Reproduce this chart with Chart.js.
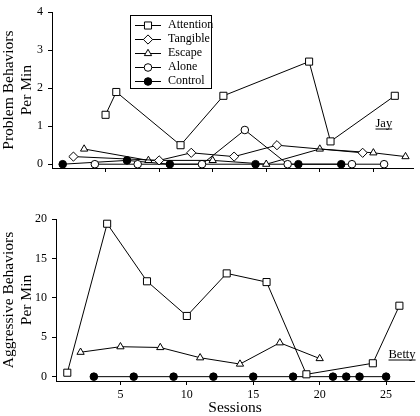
<!DOCTYPE html>
<html>
<head>
<meta charset="utf-8">
<script src="https://cdn.jsdelivr.net/npm/chart.js@4.4.1/dist/chart.umd.min.js"></script>
<style>
  body { margin: 0; background: #fff; }
  #wrap { position: relative; width: 420px; height: 416px; }
  canvas { position: absolute; left: 0; }
</style>
</head>
<body>
<div id="wrap">
  <canvas id="jay" width="420" height="200" style="top:0"></canvas>
  <canvas id="betty" width="420" height="216" style="top:200px"></canvas>
</div>
<script>
// Jay: problem behaviors per min, by session
var jayAttentionSessions = [5, 6, 12, 16, 24, 26, 32];
var jayAttention = [1.3, 1.9, 0.5, 1.8, 2.7, 0.6, 1.8];
var jayTangibleSessions = [2, 10, 13, 17, 21, 29];
var jayTangible = [0.2, 0.1, 0.3, 0.2, 0.5, 0.3];
var jayEscapeSessions = [3, 9, 15, 20, 25, 30, 33];
var jayEscape = [0.4, 0.1, 0.1, 0, 0.4, 0.3, 0.2];
var jayAloneSessions = [4, 8, 14, 18, 22, 28, 31];
var jayAlone = [0, 0, 0, 0.9, 0, 0, 0];
var jayControlSessions = [1, 7, 11, 19, 23, 27];
var jayControl = [0, 0.1, 0, 0, 0, 0];

// Betty: aggressive behaviors per min, by session
var bettyAttentionSessions = [1, 4, 7, 10, 13, 16, 19, 24, 26];
var bettyAttention = [0.5, 19.4, 12.1, 7.7, 13.1, 12.0, 0.3, 1.7, 9.0];
var bettyEscapeSessions = [2, 5, 8, 11, 14, 17, 20];
var bettyEscape = [3.1, 3.8, 3.7, 2.4, 1.6, 4.3, 2.3];
var bettyControlSessions = [3, 6, 9, 12, 15, 18, 21, 22, 23, 25];
var bettyControl = [0, 0, 0, 0, 0, 0, 0, 0, 0, 0];

var xTicks = [5, 10, 15, 20, 25, 30];
var jayYTicks = [0, 1, 2, 3, 4];
var bettyYTicks = [0, 5, 10, 15, 20];

var legendNames = ["Attention", "Tangible", "Escape", "Alone", "Control"];

var FONT = "'Liberation Serif', 'Times New Roman', serif";

var styles = {
  Attention: { pointStyle: "rect", radius: 5, fill: "#fff" },
  Tangible: { pointStyle: "rectRot", radius: 4.6, fill: "#fff" },
  Escape: { pointStyle: "triangle", radius: 4.2, fill: "#fff" },
  Alone: { pointStyle: "circle", radius: 3.8, fill: "#fff" },
  Control: { pointStyle: "circle", radius: 3.8, fill: "#000" }
};

function pts(xs, ys) {
  return xs.map(function (x, i) { return { x: x, y: ys[i] }; });
}

function series(name, xs, ys) {
  var s = styles[name];
  return {
    label: name,
    data: pts(xs, ys),
    borderColor: "#000",
    borderWidth: 1,
    pointStyle: s.pointStyle,
    pointRadius: s.radius,
    pointBackgroundColor: s.fill,
    pointBorderColor: "#000",
    pointBorderWidth: 1,
    tension: 0,
    clip: false
  };
}

function axisStyle() {
  return {
    grid: { display: true, drawOnChartArea: false, drawTicks: true, tickLength: 4, color: "#000" },
    border: { display: true, color: "#000", width: 1 }
  };
}

function drawMarker(ctx, name, x, y) {
  var s = styles[name];
  if (Chart.helpers && Chart.helpers.drawPoint) {
    ctx.save();
    ctx.fillStyle = s.fill;
    ctx.strokeStyle = "#000";
    ctx.lineWidth = 1;
    Chart.helpers.drawPoint(ctx, { pointStyle: s.pointStyle, radius: s.radius, rotation: 0, borderWidth: 1 }, x, y);
    ctx.restore();
  }
}

var legendPlugin = {
  id: "legendBox",
  afterDraw: function (chart) {
    var ctx = chart.ctx;
    ctx.save();
    ctx.fillStyle = "#fff";
    ctx.fillRect(130.5, 15.5, 81, 73);
    ctx.strokeStyle = "#000";
    ctx.lineWidth = 1;
    ctx.strokeRect(130.5, 15.5, 81, 73);
    ctx.font = "12px " + FONT;
    ctx.textBaseline = "middle";
    legendNames.forEach(function (name, i) {
      var y = 24.5 + i * 14.2;
      ctx.beginPath();
      ctx.moveTo(135, Math.round(y) + 0.5);
      ctx.lineTo(161, Math.round(y) + 0.5);
      ctx.strokeStyle = "#000";
      ctx.stroke();
      drawMarker(ctx, name, 148, Math.round(y) + 0.5);
      ctx.fillStyle = "#000";
      ctx.fillText(name, 168, y);
    });
    ctx.restore();
  }
};

function nameLabel(text, x, baseline) {
  return {
    id: "name" + text,
    afterDraw: function (chart) {
      var ctx = chart.ctx;
      ctx.save();
      ctx.font = "12.5px " + FONT;
      ctx.fillStyle = "#000";
      ctx.textBaseline = "alphabetic";
      ctx.fillText(text, x, baseline);
      var w = ctx.measureText(text).width;
      ctx.beginPath();
      ctx.moveTo(x, baseline + 2.5);
      ctx.lineTo(x + w, baseline + 2.5);
      ctx.strokeStyle = "#000";
      ctx.lineWidth = 1;
      ctx.stroke();
      ctx.restore();
    }
  };
}

var tickFont = { family: FONT, size: 12 };
var titleFont = { family: FONT, size: 15.5, lineHeight: 1.15 };

// top panel
var jx = axisStyle();
jx.type = "linear";
jx.min = 0;
jx.max = 33.7;
jx.ticks = { callback: function () { return ""; }, font: tickFont, padding: 0 };
jx.afterBuildTicks = function (s) { s.ticks = xTicks.map(function (v) { return { value: v }; }); };
jx.afterFit = function (s) { s.height = 32; };

var jy = axisStyle();
jy.min = -0.1;
jy.max = 4;
jy.ticks = { font: tickFont, color: "#000", padding: 5 };
jy.afterBuildTicks = function (s) { s.ticks = jayYTicks.map(function (v) { return { value: v }; }); };
jy.afterFit = function (s) { s.width = 52; };
jy.title = { display: true, text: ["Problem Behaviors", "Per Min"], font: titleFont, color: "#000", padding: { top: 0, bottom: 0 } };

new Chart(document.getElementById("jay"), {
  type: "line",
  data: {
    datasets: [
      series("Attention", jayAttentionSessions, jayAttention),
      series("Tangible", jayTangibleSessions, jayTangible),
      series("Escape", jayEscapeSessions, jayEscape),
      series("Alone", jayAloneSessions, jayAlone),
      series("Control", jayControlSessions, jayControl)
    ]
  },
  options: {
    responsive: false,
    animation: false,
    layout: { padding: { top: 7, right: 7, left: 0, bottom: 0 } },
    plugins: { legend: { display: false }, tooltip: { enabled: false } },
    scales: { x: jx, y: jy }
  },
  plugins: [legendPlugin, nameLabel("Jay", 375.5, 126.5)]
});

// bottom panel
var bx = axisStyle();
bx.type = "linear";
bx.min = 0.15;
bx.max = 27.1;
bx.ticks = { font: tickFont, color: "#000", padding: 3 };
bx.afterBuildTicks = function (s) { s.ticks = xTicks.filter(function (v) { return v <= 25; }).map(function (v) { return { value: v }; }); };
bx.afterFit = function (s) { s.height = 35; };
bx.title = { display: true, text: "Sessions", font: { family: FONT, size: 15.5, lineHeight: 1.0 }, color: "#000", padding: { top: 0, bottom: 0 } };

var by = axisStyle();
by.min = -0.55;
by.max = 20;
by.ticks = { font: tickFont, color: "#000", padding: 5 };
by.afterBuildTicks = function (s) { s.ticks = bettyYTicks.map(function (v) { return { value: v }; }); };
by.afterFit = function (s) { s.width = 56; };
by.title = { display: true, text: ["Aggressive Behaviors", "Per Min"], font: titleFont, color: "#000", padding: { top: 0, bottom: 0 } };

new Chart(document.getElementById("betty"), {
  type: "line",
  data: {
    datasets: [
      series("Attention", bettyAttentionSessions, bettyAttention),
      series("Escape", bettyEscapeSessions, bettyEscape),
      series("Control", bettyControlSessions, bettyControl)
    ]
  },
  options: {
    responsive: false,
    animation: false,
    layout: { padding: { top: 19, right: 2, left: 0, bottom: 0 } },
    plugins: { legend: { display: false }, tooltip: { enabled: false } },
    scales: { x: bx, y: by }
  },
  plugins: [nameLabel("Betty", 388.5, 157.5)]
});
</script>
</body>
</html>
